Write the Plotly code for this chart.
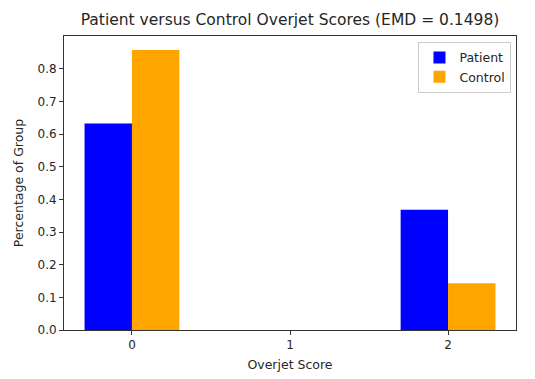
import plotly.graph_objects as go

scores = [0, 1, 2]
patient = [0.632, 0.0, 0.368]
control = [0.857, 0.0, 0.143]
x_ticks = [0, 1, 2]
y_ticks = [0.0, 0.1, 0.2, 0.3, 0.4, 0.5, 0.6, 0.7, 0.8]

fig = go.Figure()
fig.add_trace(go.Bar(x=scores, y=patient, name="Patient", width=0.3, offset=-0.3,
                     marker=dict(color="#0000ff", line=dict(width=0))))
fig.add_trace(go.Bar(x=scores, y=control, name="Control", width=0.3, offset=0.0,
                     marker=dict(color="#ffa500", line=dict(width=0))))

axis_common = dict(showgrid=False, zeroline=False, showline=True, linecolor="#333333",
                   linewidth=1, mirror=True, ticks="outside", ticklen=4, automargin=False,
                   tickcolor="#333333", tickfont=dict(size=12, color="#262626"))

fig.update_layout(
    width=535, height=379,
    margin=dict(l=64, r=19, t=36, b=49),
    paper_bgcolor="white", plot_bgcolor="white",
    font=dict(family="DejaVu Sans", color="#262626"),
    barmode="overlay",
    title=dict(text="Patient versus Control Overjet Scores (EMD = 0.1498)",
               x=0.5, xref="paper", xanchor="center", y=1 - 20/379, yanchor="middle",
               font=dict(size=15.5, color="#262626")),
    xaxis=dict(range=[-0.43, 2.43], tickvals=x_ticks, ticktext=[str(v) for v in x_ticks],
               title=dict(text="Overjet Score", font=dict(size=12.5), standoff=8), **axis_common),
    yaxis=dict(range=[0, 0.9], tickvals=y_ticks, ticktext=[f"{v:.1f}" for v in y_ticks],
               title=dict(text="Percentage of Group", font=dict(size=12.5), standoff=11), **axis_common),
    legend=dict(x=0.99, y=0.98, xanchor="right", yanchor="top",
                bordercolor="#cccccc", borderwidth=1, bgcolor="rgba(255,255,255,0.8)",
                font=dict(size=12.5), tracegroupgap=0),
    showlegend=True,
)

fig.write_html("out.html", config={"displayModeBar": False},
               post_script="document.body.style.margin='0';")
